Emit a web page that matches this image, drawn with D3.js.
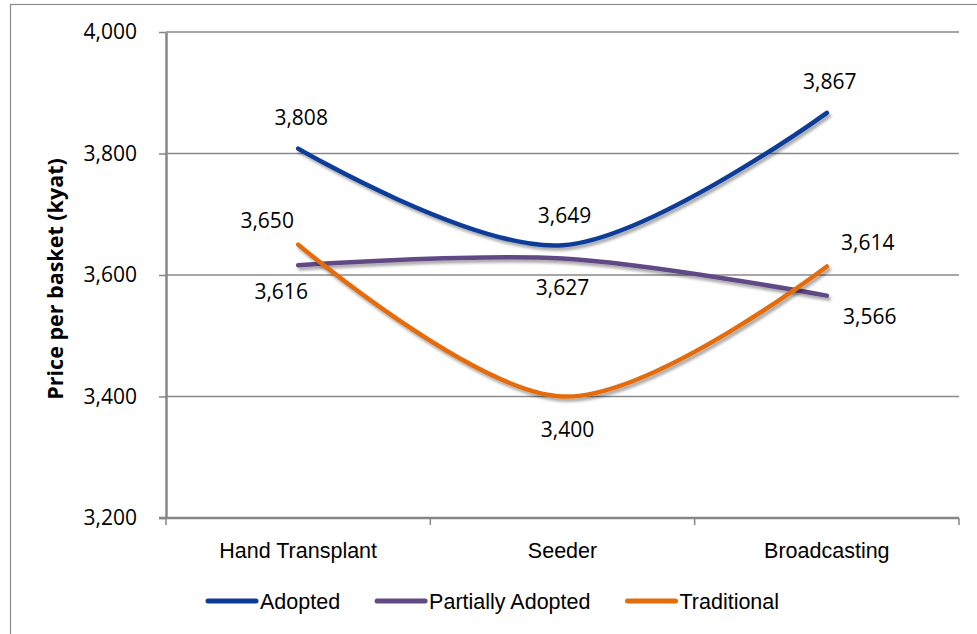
<html>
<head>
    <style type="text/css">
        body{
            margin: 0;
            background-color: #fff;
        }
        svg{
            display: block;
        }
        .num{
            font-family: "Open Sans", "Liberation Sans", Arial, sans-serif;
            font-size: 21px;
            fill: #000;
        }
        .cat{
            font-family: "Liberation Sans", Arial, sans-serif;
            font-size: 21.5px;
            fill: #000;
        }
        .axis path, .axis line{
            stroke: #868686;
        }
    </style>
    <script type="text/javascript" src="https://cdn.jsdelivr.net/npm/d3@7"></script>
</head>
<body>
    <div id="chart"></div>

    <script type="text/javascript">
        var width = 977, height = 634;

        var categories = ['Hand Transplant', 'Seeder', 'Broadcasting'];
        var seriesNames = ['Adopted', 'Partially Adopted', 'Traditional'];
        var adopted = [3808, 3649, 3867];
        var partiallyAdopted = [3616, 3627, 3566];
        var traditional = [3650, 3400, 3614];
        var yTicks = [3200, 3400, 3600, 3800, 4000];
        var yTitle = 'Price per basket (kyat)';

        var colors = ['#0b3d98', '#604a84', '#e46c0a'];
        // label offsets from the point (px), one per series / category
        var labelOffsets = [
            [[3, -31], [2, -30], [3, -31]],
            [[-17, 26], [0, 29], [43, 21]],
            [[-31, -24], [5, 33], [41, -24]]
        ];

        var series = [adopted, partiallyAdopted, traditional].map(function(vals, i){
            return {name: seriesNames[i], values: vals, color: colors[i], offsets: labelOffsets[i]};
        });

        var plotLeft = 166, plotRight = 959, plotTop = 32, plotBottom = 518;

        var svg = d3.select('#chart')
            .append('svg')
            .attr('width', width)
            .attr('height', height);

        var defs = svg.append('defs');
        var f = defs.append('filter').attr('id', 'shadow')
            .attr('x', '-10%').attr('y', '-20%').attr('width', '130%').attr('height', '150%');
        f.append('feGaussianBlur').attr('in', 'SourceAlpha').attr('stdDeviation', 1.6).attr('result', 'b');
        f.append('feOffset').attr('in', 'b').attr('dx', 2).attr('dy', 3).attr('result', 'o');
        f.append('feComponentTransfer').attr('in', 'o').attr('result', 's')
            .append('feFuncA').attr('type', 'linear').attr('slope', 0.35);
        var m = f.append('feMerge');
        m.append('feMergeNode').attr('in', 's');
        m.append('feMergeNode').attr('in', 'SourceGraphic');

        // outer border
        svg.append('rect')
            .attr('x', 10.5).attr('y', 4.5)
            .attr('width', 1000).attr('height', 700)
            .attr('fill', 'none')
            .attr('stroke', '#8c8c8c')
            .attr('stroke-width', 1.2);

        var xScale = d3.scaleBand()
            .domain(categories)
            .range([plotLeft, plotRight]);

        var yScale = d3.scaleLinear()
            .domain([3200, 4000])
            .range([plotBottom, plotTop]);

        function cx(c){ return xScale(c) + xScale.bandwidth() / 2; }

        // gridlines
        svg.append('g')
            .selectAll('line')
            .data(yTicks.slice(1))
            .enter()
            .append('line')
            .attr('x1', plotLeft).attr('x2', plotRight)
            .attr('y1', function(d){ return yScale(d); })
            .attr('y2', function(d){ return yScale(d); })
            .attr('stroke', '#8a8a8a')
            .attr('stroke-width', 1.5);

        // y axis
        var yAxis = d3.axisLeft(yScale)
            .tickValues(yTicks)
            .tickFormat(d3.format(','))
            .tickSize(7)
            .tickSizeOuter(0)
            .tickPadding(22);
        var yAxisG = svg.append('g')
            .attr('class', 'axis')
            .attr('transform', 'translate(' + plotLeft + ',0)')
            .call(yAxis);
        yAxisG.select('.domain').attr('stroke-width', 2.5);
        yAxisG.selectAll('line').attr('stroke-width', 1.5);
        yAxisG.selectAll('text')
            .attr('class', 'num')
            .attr('fill', '#000');
        yAxisG.attr('font-family', null).attr('font-size', null);

        // x axis: line and boundary ticks
        var bounds = categories.map(function(c){ return xScale(c); }).concat([plotRight]);
        svg.append('line')
            .attr('x1', plotLeft - 7).attr('x2', plotRight)
            .attr('y1', plotBottom).attr('y2', plotBottom)
            .attr('stroke', '#868686')
            .attr('stroke-width', 2.5);
        svg.append('g')
            .selectAll('line')
            .data(bounds)
            .enter()
            .append('line')
            .attr('x1', function(d){ return d; })
            .attr('x2', function(d){ return d; })
            .attr('y1', plotBottom).attr('y2', plotBottom + 7)
            .attr('stroke', '#868686')
            .attr('stroke-width', 1.5);

        svg.append('g')
            .selectAll('text')
            .data(categories)
            .enter()
            .append('text')
            .attr('class', 'cat')
            .attr('x', cx)
            .attr('y', plotBottom + 40)
            .attr('text-anchor', 'middle')
            .text(function(d){ return d; });

        // y title
        svg.append('text')
            .attr('transform', 'translate(63,279) rotate(-90)')
            .attr('text-anchor', 'middle')
            .style('font-family', '"Open Sans", "Liberation Sans", Arial, sans-serif')
            .style('font-weight', 'bold')
            .style('font-size', '21.5px')
            .text(yTitle);

        // lines
        var line = d3.line()
            .x(function(d, i){ return cx(categories[i]); })
            .y(function(d){ return yScale(d); })
            .curve(d3.curveCardinal.tension(0));

        svg.append('g')
            .selectAll('path')
            .data(series)
            .enter()
            .append('path')
            .attr('d', function(d){ return line(d.values); })
            .attr('fill', 'none')
            .attr('stroke', function(d){ return d.color; })
            .attr('stroke-width', 4.5)
            .attr('stroke-linecap', 'round')
            .attr('filter', 'url(#shadow)');

        // data labels
        series.forEach(function(s){
            svg.append('g')
                .selectAll('text')
                .data(s.values)
                .enter()
                .append('text')
                .attr('class', 'num')
                .attr('x', function(d, i){ return cx(categories[i]) + s.offsets[i][0]; })
                .attr('y', function(d, i){ return yScale(d) + s.offsets[i][1]; })
                .attr('dy', '0.35em')
                .attr('text-anchor', 'middle')
                .text(function(d){ return d3.format(',')(d); });
        });

        // legend
        var lx = 206, ly = 601;
        series.forEach(function(s){
            svg.append('line')
                .attr('x1', lx + 2).attr('x2', lx + 50)
                .attr('y1', ly).attr('y2', ly)
                .attr('stroke', s.color)
                .attr('stroke-width', 5)
                .attr('stroke-linecap', 'round');
            var t = svg.append('text')
                .attr('class', 'cat')
                .attr('x', lx + 54)
                .attr('y', ly + 8)
                .text(s.name);
            lx = lx + 54 + t.node().getComputedTextLength() + 35;
        });
    </script>
</body>
</html>
